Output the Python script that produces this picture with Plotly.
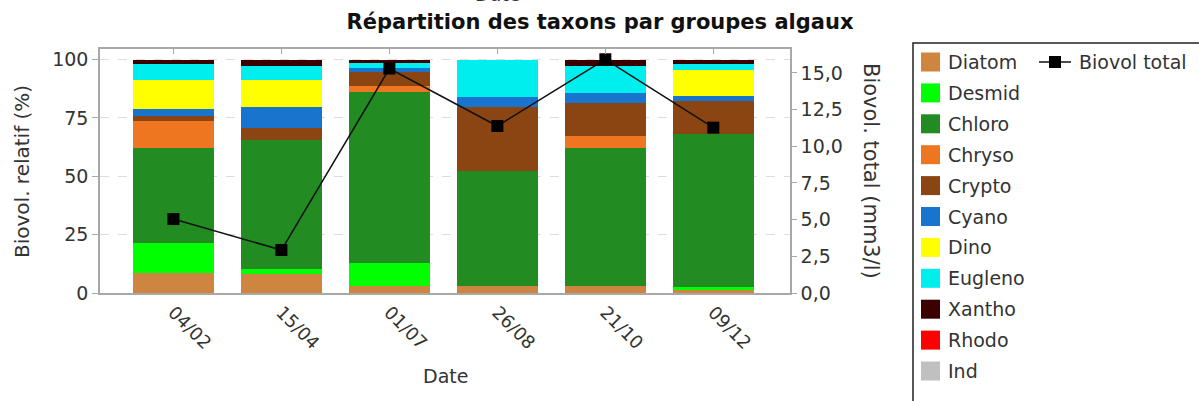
import plotly.graph_objects as go

# ---- data ----
dates = ["04/02", "15/04", "01/07", "26/08", "21/10", "09/12"]
groups = ["Diatom", "Desmid", "Chloro", "Chryso", "Crypto", "Cyano",
          "Dino", "Eugleno", "Xantho", "Rhodo", "Ind"]
colors = ["#cd853f", "#00ff00", "#228b22", "#ee7621", "#8b4513", "#1874cd",
          "#ffff00", "#00eeee", "#3b0000", "#ff0000", "#c0c0c0"]

diatom = [8.7, 8.0, 3.0, 3.1, 3.1, 1.7]
desmid = [12.8, 2.1, 10.0, 0.0, 0.0, 0.7]
chloro = [40.7, 55.4, 73.2, 49.1, 59.1, 65.6]
chryso = [11.6, 0.0, 2.5, 0.0, 5.0, 0.0]
crypto = [2.1, 5.0, 6.1, 27.3, 14.0, 14.2]
cyano = [2.8, 9.0, 1.4, 4.3, 4.3, 2.3]
dino = [12.5, 11.7, 0.0, 0.0, 0.0, 11.0]
eugleno = [6.7, 6.0, 2.2, 16.2, 11.7, 2.4]
xantho = [2.1, 2.8, 1.6, 0.0, 2.8, 2.1]
rhodo = [0.0, 0.0, 0.0, 0.0, 0.0, 0.0]
ind = [0.0, 0.0, 0.0, 0.0, 0.0, 0.0]
series = [diatom, desmid, chloro, chryso, crypto, cyano, dino, eugleno, xantho, rhodo, ind]

biovol_total = [5.04, 2.93, 15.3, 11.38, 15.93, 11.27]

left_ticks = [0, 25, 50, 75, 100]
right_ticks = [0, 2.5, 5, 7.5, 10, 12.5, 15]

# ---- geometry (window pixels; body margin removed by post_script) ----
W, H = 1199, 401
PL, PR, PT, PB = 100, 790, 49, 293
FONT = "DejaVu Sans"
TXT = "#333333"
AX = "#a8a8a8"


def px(x):
    return (x - PL) / (PR - PL)


def py(y):
    return (PB - y) / (PB - PT)


fig = go.Figure()
for name, vals, col in zip(groups, series, colors):
    fig.add_trace(go.Bar(x=dates, y=vals, name=name, marker=dict(color=col, line=dict(width=0)),
                         showlegend=False))

fig.add_trace(go.Scatter(x=dates, y=biovol_total, yaxis="y2", name="Biovol total",
                         mode="lines+markers", line=dict(color="#111111", width=1.5),
                         marker=dict(symbol="square", size=12, color="#000000"),
                         showlegend=False))
# invisible trace to carry the top tick axis
fig.add_trace(go.Scatter(x=dates, y=[None] * len(dates), xaxis="x2", yaxis="y",
                         showlegend=False, hoverinfo="skip"))

shapes = []
annotations = []

# legend box
shapes.append(dict(type="rect", xref="paper", yref="paper",
                   x0=px(913), x1=px(1215), y0=py(43), y1=py(420),
                   line=dict(color="#222222", width=1.5), fillcolor="rgba(0,0,0,0)"))
for i, (name, col) in enumerate(zip(groups, colors)):
    cy = 62 + i * 30.9
    shapes.append(dict(type="rect", xref="paper", yref="paper",
                       x0=px(921), x1=px(940), y0=py(cy + 9.5), y1=py(cy - 9.5),
                       line=dict(width=0), fillcolor=col))
    annotations.append(dict(x=px(946), y=py(cy), xref="paper", yref="paper", text=name,
                            showarrow=False, xanchor="left", yanchor="middle",
                            font=dict(family=FONT, size=19, color=TXT)))
# Biovol total legend item
shapes.append(dict(type="line", xref="paper", yref="paper", x0=px(1039), x1=px(1071),
                   y0=py(62), y1=py(62), line=dict(color="#111111", width=1.5)))
shapes.append(dict(type="rect", xref="paper", yref="paper", x0=px(1049), x1=px(1061),
                   y0=py(68), y1=py(56), line=dict(width=0), fillcolor="#000000"))
annotations.append(dict(x=px(1077), y=py(62), xref="paper", yref="paper", text="Biovol total",
                        showarrow=False, xanchor="left", yanchor="middle",
                        font=dict(family=FONT, size=19, color=TXT)))

# axis titles
annotations.append(dict(x=px(22), y=py(172), xref="paper", yref="paper",
                        text="Biovol. relatif (%)", textangle=-90, showarrow=False,
                        xanchor="center", yanchor="middle",
                        font=dict(family=FONT, size=20, color=TXT)))
annotations.append(dict(x=px(871), y=py(171), xref="paper", yref="paper",
                        text="Biovol. total (mm3/l)", textangle=90, showarrow=False,
                        xanchor="center", yanchor="middle",
                        font=dict(family=FONT, size=21, color=TXT)))
annotations.append(dict(x=px(445), y=py(376), xref="paper", yref="paper",
                        text="Date", showarrow=False, xanchor="center", yanchor="middle",
                        font=dict(family=FONT, size=19, color=TXT)))
# partially clipped label at the very top, as in the reference
annotations.append(dict(x=px(497), y=py(-6), xref="paper", yref="paper",
                        text="Date", showarrow=False, xanchor="center", yanchor="middle",
                        font=dict(family=FONT, size=19, color=TXT)))

fig.update_layout(
    width=W, height=H,
    margin=dict(l=PL, r=W - PR, t=PT, b=H - PB, pad=0),
    paper_bgcolor="white", plot_bgcolor="white",
    barmode="stack", bargap=0.25,
    separators=", ",
    font=dict(family=FONT, size=19, color=TXT),
    title=dict(text="<b>Répartition des taxons par groupes algaux</b>",
               x=600 / W, xanchor="center", xref="container",
               y=1 - 22 / H, yanchor="middle", yref="container",
               font=dict(family=FONT, size=21, color="#111111")),
    xaxis=dict(type="category", categoryorder="array", categoryarray=dates,
               range=[-0.68, 5.71], tickangle=45, ticks="", showline=True,
               linecolor=AX, linewidth=1.5, mirror=True, showgrid=False,
               tickfont=dict(family=FONT, size=18, color=TXT)),
    xaxis2=dict(type="category", categoryorder="array", categoryarray=dates,
                range=[-0.68, 5.71], overlaying="x", side="top", anchor="y",
                ticks="inside", ticklen=5, tickcolor=AX, tickwidth=1,
                showticklabels=False, showline=False, showgrid=False),
    yaxis=dict(range=[0, 104.5], tickvals=left_ticks, ticks="outside", ticklen=6,
               tickcolor=AX, showline=True, linecolor=AX, linewidth=1.5,
               showgrid=True, gridcolor="#dddddd", griddash="dash", gridwidth=1,
               zeroline=False, tickfont=dict(family=FONT, size=19, color=TXT)),
    yaxis2=dict(range=[0, 16.63], tickvals=right_ticks, tickformat=".1f",
                overlaying="y", side="right", anchor="x", ticks="outside", ticklen=5,
                tickcolor=AX, showline=True, linecolor=AX, linewidth=1.5,
                showgrid=False, zeroline=False,
                tickfont=dict(family=FONT, size=19, color=TXT)),
    shapes=shapes,
    annotations=annotations,
)

fig.write_html("out.html", config={"displayModeBar": False},
               post_script="document.body.style.margin='0px';")
